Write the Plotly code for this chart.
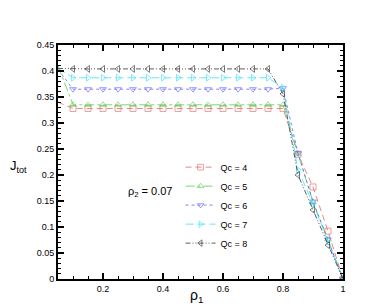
import plotly.graph_objects as go

# rho_1 values
rho1 = [0.05, 0.10, 0.15, 0.20, 0.25, 0.30, 0.35, 0.40, 0.45, 0.50, 0.55, 0.60,
        0.65, 0.70, 0.75, 0.80, 0.85, 0.90, 0.95, 1.00]

j_qc4 = [0.340] + [0.328] * 14 + [0.328, 0.240, 0.177, 0.092, 0.0]
j_qc5 = [0.410] + [0.335] * 14 + [0.335, 0.241, 0.148, 0.076, 0.0]
j_qc6 = [0.403] + [0.365] * 14 + [0.367, 0.242, 0.149, 0.076, 0.0]
j_qc7 = [0.405] + [0.387] * 14 + [0.368, 0.210, 0.145, 0.074, 0.0]
j_qc8 = [0.405] + [0.404] * 14 + [0.356, 0.200, 0.133, 0.065, 0.0]

series_names = ["Qc = 4", "Qc = 5", "Qc = 6", "Qc = 7", "Qc = 8"]
series_vals = [j_qc4, j_qc5, j_qc6, j_qc7, j_qc8]
colors = ["#e56666", "#4fd44f", "#6262ff", "#3ee2f7", "#333333"]
symbols = ["square-open", "triangle-up-open", "triangle-down-open",
           "triangle-right-open", "triangle-left-open"]
dashes = ["6px,4px", "dashdot", "dot", "8px,4px", "5px,2px,1px,2px,1px,2px"]

x_ticks = [0.2, 0.4, 0.6, 0.8, 1.0]
x_tick_text = ["0.2", "0.4", "0.6", "0.8", "1"]
y_ticks = [0, 0.05, 0.1, 0.15, 0.2, 0.25, 0.3, 0.35, 0.4, 0.45]
y_tick_text = ["0", "0.05", "0.1", "0.15", "0.2", "0.25", "0.3", "0.35", "0.4", "0.45"]

FONT = "Liberation Sans, Arial, sans-serif"

fig = go.Figure()
for name, vals, c, s, d in zip(series_names, series_vals, colors, symbols, dashes):
    sizes = [0] + [6] * (len(vals) - 1)
    fig.add_trace(go.Scatter(
        x=rho1, y=vals, name=name, mode="lines+markers",
        line=dict(color=c, width=0.8, dash=d),
        marker=dict(symbol=s, size=sizes, color=c, line=dict(color=c, width=0.9)),
    ))

axis_common = dict(
    showline=True, linecolor="black", linewidth=2, mirror="allticks",
    ticks="inside", ticklen=6, tickwidth=1.5, tickcolor="black",
    showgrid=False, zeroline=False,
    tickfont=dict(family=FONT, size=9, color="black"),
)

fig.update_xaxes(range=[0.05, 1.0], tickvals=x_ticks, ticktext=x_tick_text,
                 minor=dict(ticks="inside", ticklen=3, dtick=0.05, tick0=0,
                            tickcolor="black", tickwidth=1),
                 **axis_common)
fig.update_yaxes(range=[0, 0.45], tickvals=y_ticks, ticktext=y_tick_text,
                 minor=dict(ticks="inside", ticklen=3, dtick=0.01, tick0=0,
                            tickcolor="black", tickwidth=1),
                 **axis_common)

fig.update_layout(
    width=382, height=306,
    margin=dict(l=50, r=47, t=37, b=35),
    paper_bgcolor="white", plot_bgcolor="white",
    font=dict(family=FONT, color="black"),
    showlegend=True,
    legend=dict(x=0.43, y=0.54, xanchor="left", yanchor="top",
                bgcolor="rgba(0,0,0,0)", font=dict(family=FONT, size=9),
                tracegroupgap=0, itemwidth=30),
    annotations=[
        dict(text="J<sub>tot</sub>", xref="paper", yref="paper",
             x=-0.14, y=0.48, showarrow=False, xanchor="center",
             font=dict(family=FONT, size=13)),
        dict(text="ρ<sub>1</sub>", xref="paper", yref="paper",
             x=0.485, y=-0.12, showarrow=False, yanchor="bottom",
             font=dict(family=FONT, size=14)),
        dict(text="ρ<sub>2</sub> = 0.07", xref="paper", yref="paper",
             x=0.237, y=0.372, showarrow=False,
             font=dict(family=FONT, size=11)),
    ],
)

fig.write_html("out.html")
